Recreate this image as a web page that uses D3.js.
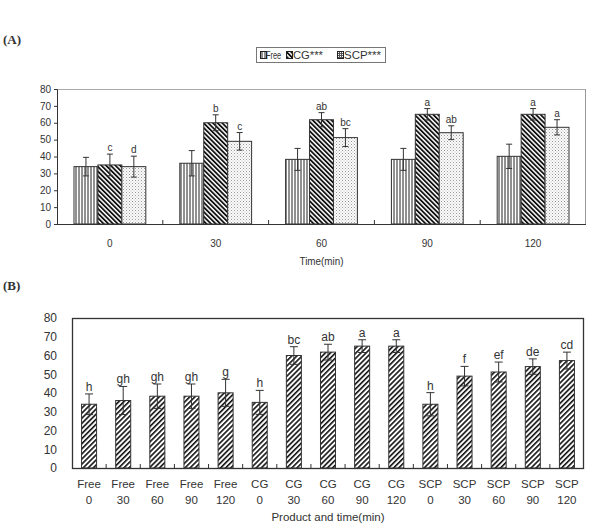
<!DOCTYPE html>
<html><head><meta charset="utf-8">
<script src="https://cdn.jsdelivr.net/npm/d3@7"></script>
<style>body{margin:0;background:#fff}svg{display:block}text{font-family:"Liberation Sans",Arial,sans-serif;fill:#333}</style>
</head><body><svg id="c" width="591" height="527"></svg>
<script>
// ---- data ----
const times = ["0","30","60","90","120"];
const seriesNames = ["Free","CG***","SCP***"];
const freeVals = [34,36,38.3,38.3,40.1];
const freeSd = [5.5,7.5,6.5,6.5,7.2];
const cgVals = [35,60,61.8,65,65];
const cgSd = [6.4,4.7,4.2,3.4,3.4];
const scpVals = [34,49,51.2,54.1,57.3];
const scpSd = [6.2,5.2,5.3,4.1,4.5];
const freeLetters = ["","","","",""];
const cgLetters = ["c","b","ab","a","a"];
const scpLetters = ["d","c","bc","ab","a"];
const productsB = ["Free","Free","Free","Free","Free","CG","CG","CG","CG","CG","SCP","SCP","SCP","SCP","SCP"];
const lettersB = ["h","gh","gh","gh","g","h","bc","ab","a","a","h","f","ef","de","cd"];
const yTicks = [0,10,20,30,40,50,60,70,80];

const svg = d3.select("#c");
const defs = svg.append("defs");
// patterns
const pV = defs.append("pattern").attr("id","pv").attr("patternUnits","userSpaceOnUse").attr("width",3).attr("height",3);
pV.append("rect").attr("width",3).attr("height",3).attr("fill","#fff");
pV.append("line").attr("x1",1).attr("x2",1).attr("y1",0).attr("y2",3).attr("stroke","#222").attr("stroke-width",1);
const pC = defs.append("pattern").attr("id","pc").attr("patternUnits","userSpaceOnUse").attr("width",3.3).attr("height",10).attr("patternTransform","rotate(-45)");
pC.append("rect").attr("width",3.3).attr("height",10).attr("fill","#fff");
pC.append("rect").attr("width",1.8).attr("height",10).attr("fill","#111");
const pS = defs.append("pattern").attr("id","ps").attr("patternUnits","userSpaceOnUse").attr("width",3).attr("height",3);
pS.append("rect").attr("width",3).attr("height",3).attr("fill","#fbfbfb");
pS.append("rect").attr("x",0).attr("y",0).attr("width",1).attr("height",1).attr("fill","#999");
pS.append("rect").attr("x",1.5).attr("y",1.5).attr("width",1).attr("height",1).attr("fill","#bbb");
const pSd = defs.append("pattern").attr("id","psd").attr("patternUnits","userSpaceOnUse").attr("width",2).attr("height",2);
pSd.append("rect").attr("width",2).attr("height",2).attr("fill","#555");
pSd.append("rect").attr("width",1).attr("height",1).attr("fill","#fff");
const pB = defs.append("pattern").attr("id","pb").attr("patternUnits","userSpaceOnUse").attr("width",3.6).attr("height",10).attr("patternTransform","rotate(45)");
pB.append("rect").attr("width",3.6).attr("height",10).attr("fill","#fff");
pB.append("rect").attr("width",1.6).attr("height",10).attr("fill","#111");
const fills = ["url(#pv)","url(#pc)","url(#ps)"];

// ---- Chart A ----
const A = {l:57,r:586,t:89,b:224};
const xA = d3.scaleBand().domain(times).range([A.l,A.r]).paddingInner(0).paddingOuter(0);
const xAin = d3.scaleBand().domain(seriesNames).range([0,xA.bandwidth()]).paddingInner(0).paddingOuter(0.71);
const yA = d3.scaleLinear().domain([0,80]).range([A.b,A.t]);
const gA = svg.append("g");
svg.append("text").attr("x",3).attr("y",44).style("font-family","'Liberation Serif',serif").style("font-weight","bold").style("font-size","13px").attr("fill","#222").text("(A)");
// frame top/right gray
gA.append("line").attr("x1",A.l).attr("x2",A.r).attr("y1",A.t+0.5).attr("y2",A.t+0.5).attr("stroke","#aaa");
gA.append("line").attr("x1",A.r-0.5).attr("x2",A.r-0.5).attr("y1",A.t).attr("y2",A.b).attr("stroke","#999");
const allA = [freeVals,cgVals,scpVals], sdA=[freeSd,cgSd,scpSd], letA=[freeLetters,cgLetters,scpLetters];
allA.forEach((vals,si)=>{
  const g = gA.append("g");
  g.selectAll("rect").data(vals).join("rect")
    .attr("x",(d,i)=>xA(times[i])+xAin(seriesNames[si]))
    .attr("y",d=>yA(d)).attr("width",xAin.bandwidth()).attr("height",d=>yA(0)-yA(d))
    .attr("fill",fills[si]).attr("stroke","#333").attr("stroke-width",1);
});
allA.forEach((vals,si)=>{
  vals.forEach((v,i)=>{
    const cx = xA(times[i])+xAin(seriesNames[si])+xAin.bandwidth()/2;
    const y1=yA(v+sdA[si][i]), y0=yA(v-sdA[si][i]);
    gA.append("path").attr("d",`M${cx},${y0}V${y1}M${cx-3},${y1}H${cx+3}M${cx-3},${y0}H${cx+3}`).attr("stroke","#333").attr("fill","none");
    if(letA[si][i]) gA.append("text").attr("x",cx).attr("y",y1-3).attr("text-anchor","middle").style("font-size","10px").attr("fill","#444").text(letA[si][i]);
  });
});
// axes
const yAxA = gA.append("g").attr("transform",`translate(${A.l},0)`).call(d3.axisLeft(yA).tickValues(yTicks).tickSize(3).tickPadding(3));
yAxA.select(".domain").attr("stroke","#333");
yAxA.selectAll("text").style("font-size","10px").attr("fill","#333");
yAxA.selectAll("line").attr("stroke","#333");
gA.append("line").attr("x1",A.l).attr("x2",A.r).attr("y1",A.b+0.5).attr("y2",A.b+0.5).attr("stroke","#333");
times.slice(1).forEach(t=>{gA.append("line").attr("x1",xA(t)).attr("x2",xA(t)).attr("y1",A.b).attr("y2",A.b-4).attr("stroke","#333");});
times.forEach(t=>{gA.append("text").attr("x",xA(t)+xA.bandwidth()/2).attr("y",247).attr("text-anchor","middle").style("font-size","10px").text(t);});
gA.append("text").attr("x",(A.l+A.r)/2).attr("y",265).attr("text-anchor","middle").style("font-size","10px").attr("textLength",44).attr("lengthAdjust","spacingAndGlyphs").text("Time(min)");
// legend
const lg = gA.append("g");
lg.append("rect").attr("x",256.5).attr("y",47.5).attr("width",129).attr("height",15).attr("fill","#fff").attr("stroke","#777");
const legX=[260,286,337], legTX=[266,293,344], legW=[15,30,37];
const legFill=["url(#pv)","url(#pc)","url(#psd)"];
seriesNames.forEach((n,i)=>{
  lg.append("rect").attr("x",legX[i]+0.5).attr("y",51.5).attr("width",6).attr("height",7).attr("fill",legFill[i]).attr("stroke","#222");
  lg.append("text").attr("x",legTX[i]).attr("y",59).style("font-size","10px").attr("textLength",legW[i]).attr("lengthAdjust","spacingAndGlyphs").text(n);
});

// ---- Chart B ----
const B = {l:72,r:584,t:318,b:468};
const catsB = productsB.map((p,i)=>p+"|"+times[i%5]);
const valsB = freeVals.concat(cgVals, scpVals);
const sdB = freeSd.concat(cgSd, scpSd);
const xB = d3.scaleBand().domain(catsB).range([B.l,B.r]).paddingInner(0.56).paddingOuter(0.28);
const xBc = d3.scaleBand().domain(catsB).range([B.l,B.r]);
const yB = d3.scaleLinear().domain([0,80]).range([B.b,B.t]);
const gB = svg.append("g");
svg.append("text").attr("x",3).attr("y",290).style("font-family","'Liberation Serif',serif").style("font-weight","bold").style("font-size","13px").attr("fill","#222").text("(B)");
gB.selectAll("rect.bar").data(valsB).join("rect").attr("class","bar")
  .attr("x",(d,i)=>xB(catsB[i])).attr("y",d=>yB(d)).attr("width",xB.bandwidth()).attr("height",d=>yB(0)-yB(d))
  .attr("fill","url(#pb)").attr("stroke","#333");
valsB.forEach((v,i)=>{
  const cx = xB(catsB[i])+xB.bandwidth()/2;
  const y1=yB(v+sdB[i]), y0=yB(v-sdB[i]);
  gB.append("path").attr("d",`M${cx},${y0}V${y1}M${cx-4},${y1}H${cx+4}M${cx-4},${y0}H${cx+4}`).attr("stroke","#333").attr("fill","none");
  gB.append("text").attr("x",cx).attr("y",y1-3).attr("text-anchor","middle").style("font-size","12px").attr("fill","#444").text(lettersB[i]);
});
gB.append("rect").attr("x",B.l+0.5).attr("y",B.t+0.5).attr("width",B.r-B.l-1).attr("height",B.b-B.t).attr("fill","none").attr("stroke","#333").attr("stroke-width",1.3);
const yAxB = gB.append("g").attr("transform",`translate(${B.l},0)`).call(d3.axisLeft(yB).tickValues(yTicks).tickSize(0).tickPadding(15));
yAxB.select(".domain").remove();
yAxB.selectAll("text").style("font-size","12px").attr("fill","#333");
catsB.slice(1).forEach(c=>{gB.append("line").attr("x1",xBc(c)).attr("x2",xBc(c)).attr("y1",B.b).attr("y2",B.b-4).attr("stroke","#333");});
catsB.forEach((c,i)=>{
  const cx = xBc(c)+xBc.bandwidth()/2;
  gB.append("text").attr("x",cx).attr("y",488).attr("text-anchor","middle").style("font-size","11.5px").text(productsB[i]);
  gB.append("text").attr("x",cx).attr("y",504).attr("text-anchor","middle").style("font-size","11.5px").text(times[i%5]);
});
gB.append("text").attr("x",(B.l+B.r)/2).attr("y",521).attr("text-anchor","middle").style("font-size","11.5px").text("Product and time(min)");
</script></body></html>
